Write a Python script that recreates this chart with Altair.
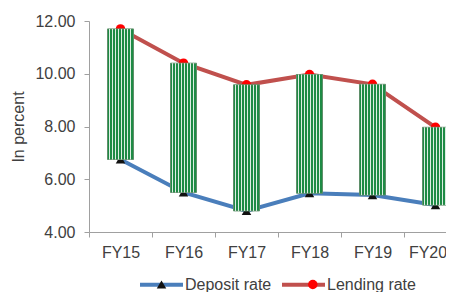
import altair as alt
import pandas as pd

years = ["FY15", "FY16", "FY17", "FY18", "FY19", "FY20"]
deposit = [6.75, 5.5, 4.8, 5.47, 5.4, 5.02]
lending = [11.7, 10.4, 9.58, 9.97, 9.6, 7.97]
series_names = ["Deposit rate", "Lending rate"]
y_ticks = [4, 6, 8, 10, 12]

line_colors = ["#4a7ebb", "#c0504d"]
marker_colors = ["#111111", "#ff0000"]
marker_shapes = ["triangle-up", "circle"]

wide = pd.DataFrame({"year": years, "deposit": deposit, "lending": lending})
rows = []
for y, d, l in zip(years, deposit, lending):
    rows.append({"year": y, "series": series_names[0], "marker": series_names[0], "value": d})
    rows.append({"year": y, "series": series_names[1], "marker": series_names[1], "value": l})
long = pd.DataFrame(rows)

FONT = "Liberation Sans"
TXT = "#404040"
AX = "#a0a0a0"

x_enc = alt.X(
    "year:N",
    sort=years,
    scale=alt.Scale(domain=years, range=[0, 378], paddingInner=0, paddingOuter=0),
    axis=alt.Axis(
        title=None, labelAngle=0, tickBand="extent", tickSize=5, labelPadding=7,
        labelFont=FONT, labelFontSize=16, labelColor=TXT,
        labelOffset={"condition": {"test": "datum.value == 'FY20'", "value": -8}, "value": 0},
        domainColor=AX, tickColor=AX, grid=False,
    ),
)
y_scale = alt.Scale(domain=[4, 12], nice=False)
y_axis = alt.Axis(
    title="In percent", values=y_ticks, format=".2f", tickSize=5, labelPadding=9,
    labelFont=FONT, labelFontSize=16, labelColor=TXT,
    titleFont=FONT, titleFontSize=16, titleColor=TXT, titleFontWeight="normal",
    titlePadding=8, domainColor=AX, tickColor=AX, grid=False,
)

lines = alt.Chart(long).mark_line(strokeWidth=4).encode(
    x=x_enc,
    y=alt.Y("value:Q", scale=y_scale, axis=y_axis),
    stroke=alt.Stroke(
        "series:N",
        scale=alt.Scale(range=line_colors),
        legend=alt.Legend(
            title=None, orient="none", legendX=49, legendY=240, direction="horizontal",
            symbolType="stroke", symbolSize=1849, symbolStrokeWidth=4,
            labelFont=FONT, labelFontSize=16, labelColor=TXT,
            labelOffset=0, columnPadding=2, padding=0,
        ),
    ),
)

points = alt.Chart(long).mark_point(filled=True, size=90, opacity=1).encode(
    x=x_enc,
    y=alt.Y("value:Q", scale=y_scale),
    fill=alt.Fill(
        "marker:N",
        scale=alt.Scale(range=marker_colors),
        legend=alt.Legend(
            title=None, orient="none", legendX=49, legendY=255.5, direction="horizontal",
            symbolSize=90, symbolStrokeWidth=0, symbolOffset=15.5,
            labelFont=FONT, labelFontSize=16, labelColor=TXT, labelExpr="''",
            labelOffset=31, columnPadding=88.3, padding=0,
        ),
    ),
    shape=alt.Shape("marker:N", scale=alt.Scale(range=marker_shapes)),
)

bars = alt.Chart(wide).mark_bar(
    size=26, color="#1e8b45", stroke="#5f8f6a", strokeWidth=1
).encode(
    x=x_enc,
    y=alt.Y("deposit:Q", scale=y_scale),
    y2="lending:Q",
)

stripes = []
for off in [-11, -8, -5, -2, 1, 4, 7, 10]:
    stripes.append(
        alt.Chart(wide).mark_rule(color="white", strokeWidth=1, opacity=0.85, xOffset=off).encode(
            x=x_enc,
            y=alt.Y("deposit:Q", scale=y_scale),
            y2="lending:Q",
        )
    )

chart = alt.layer(lines, points, bars, *stripes).properties(
    width=357,
    height=211,
    autosize=alt.AutoSizeParams(type="none"),
    padding={"left": 81, "top": 13, "right": 0, "bottom": 60},
    background="white",
).configure_view(stroke=None)

chart.save("out.html", embed_options={"renderer": "svg", "actions": False})
